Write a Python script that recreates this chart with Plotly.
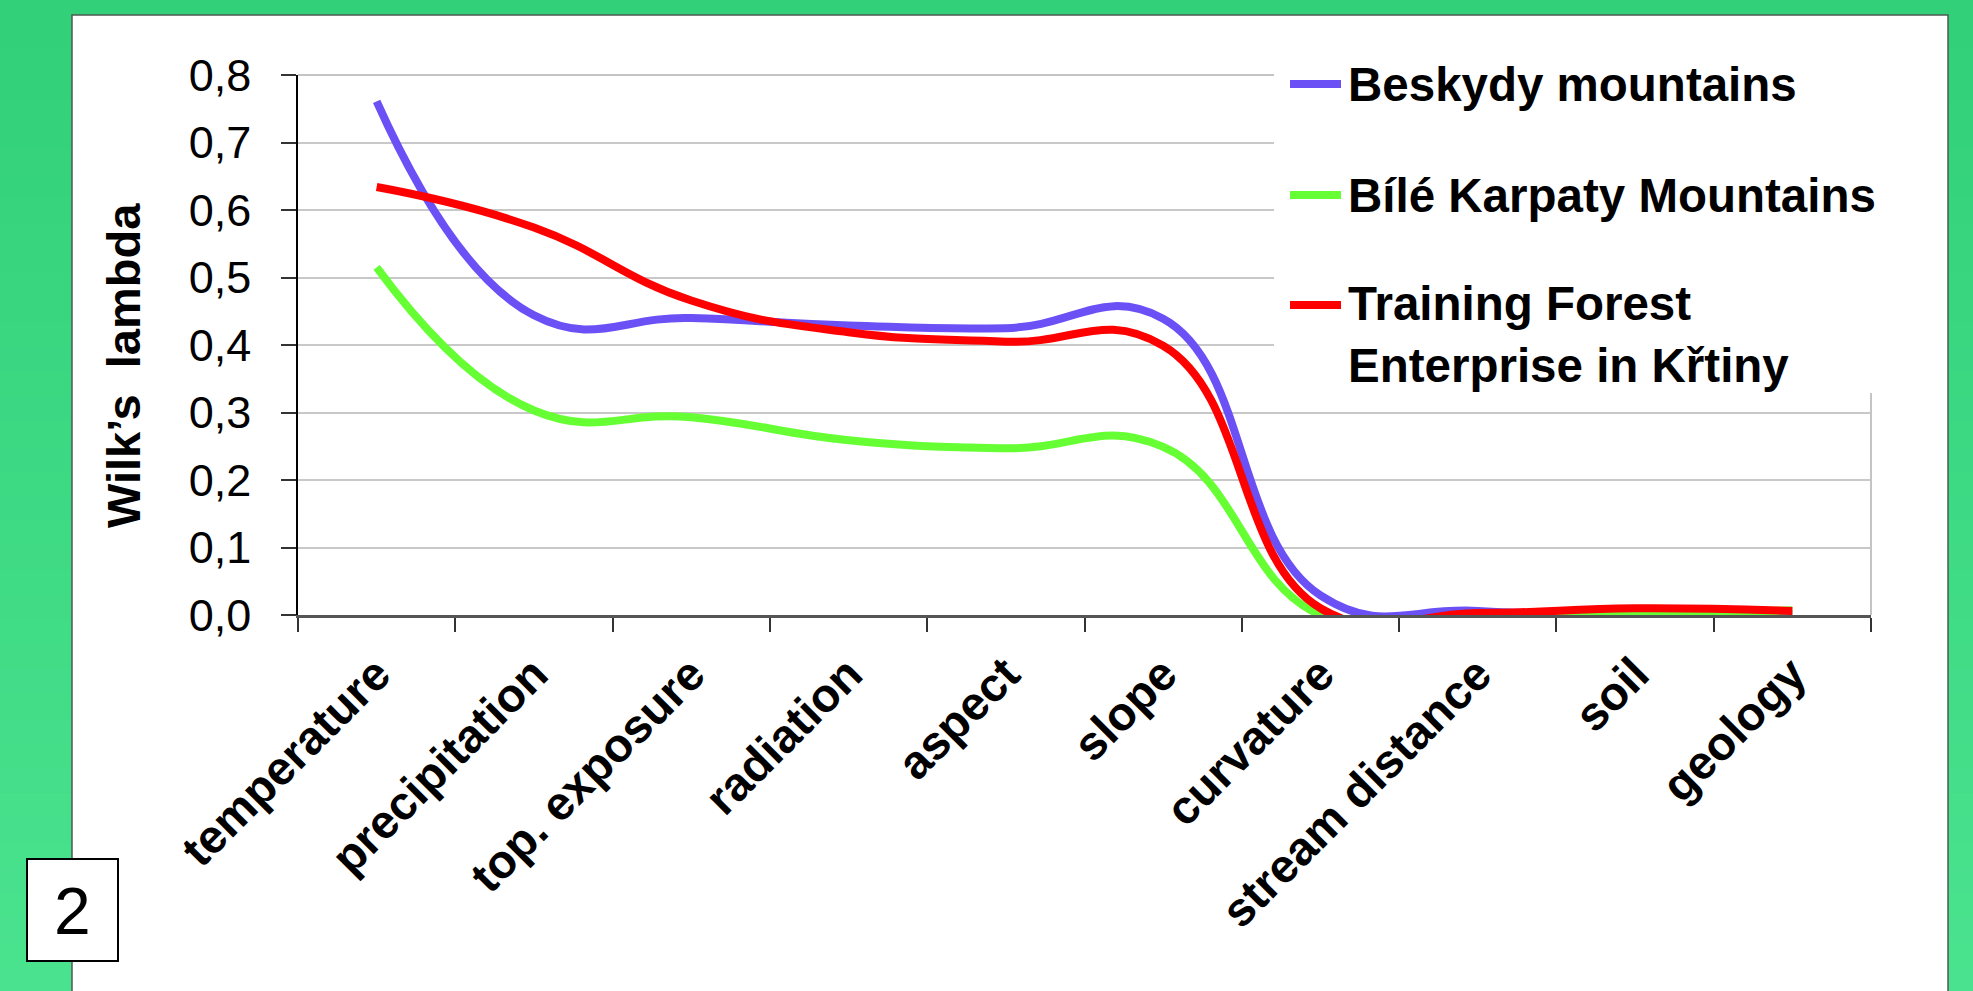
import plotly.graph_objects as go

# Discriminant variables (x categories)
categories = ["temperature", "precipitation", "top. exposure", "radiation", "aspect",
              "slope", "curvature", "stream distance", "soil", "geology"]

# Wilk's lambda per study area
beskydy = [0.761, 0.444, 0.440, 0.429, 0.425, 0.439, 0.029, 0.006, 0.001, 0.001]
bile_karpaty = [0.515, 0.303, 0.293, 0.259, 0.247, 0.249, 0.000, 0.000, 0.001, 0.007]
krtiny = [0.634, 0.574, 0.466, 0.419, 0.405, 0.399, 0.010, 0.003, 0.010, 0.006]

series_names = ["Beskydy mountains", "Bílé Karpaty Mountains",
                "Training Forest<br>Enterprise in Křtiny"]
series_colors = ["#6A50F5", "#66FF33", "#FF0000"]

y_tick_vals = [0.0, 0.1, 0.2, 0.3, 0.4, 0.5, 0.6, 0.7, 0.8]
y_tick_text = ["0,0", "0,1", "0,2", "0,3", "0,4", "0,5", "0,6", "0,7", "0,8"]

FONT = "Liberation Sans, Arial, sans-serif"
W, H = 1973, 991
L, R, T, B = 298, 1871, 75, 615  # plot area in pixels


def px(x):
    return (x - L) / (R - L)


def py(y):
    return (B - y) / (B - T)


fig = go.Figure()
for vals, name, col in zip([beskydy, bile_karpaty, krtiny], series_names, series_colors):
    fig.add_trace(go.Scatter(
        x=categories, y=vals, name=name, mode="lines",
        line=dict(color=col, width=8, shape="spline", smoothing=1.3),
        showlegend=False, hoverinfo="skip",
    ))

shapes = []
# green backdrop with a soft vertical gradient
n_strips = 40
top_rgb, bot_rgb = (50, 208, 121), (74, 226, 142)
for i in range(n_strips):
    f = i / (n_strips - 1)
    c = tuple(round(a + (b - a) * f) for a, b in zip(top_rgb, bot_rgb))
    y0 = H * i / n_strips
    y1 = H * (i + 1) / n_strips + 1
    shapes.append(dict(type="rect", xref="paper", yref="paper", layer="below",
                       x0=px(0), x1=px(W), y0=py(y0), y1=py(y1),
                       fillcolor="rgb(%d,%d,%d)" % c, line=dict(width=0)))
# white slide panel
shapes.append(dict(type="rect", xref="paper", yref="paper", layer="below",
                   x0=px(72), x1=px(1948), y0=py(15), y1=py(H + 20),
                   fillcolor="white", line=dict(color="#4d5a52", width=1.5)))
# plot-area frame (top and right)
shapes.append(dict(type="line", xref="paper", yref="paper", layer="below",
                   x0=1, x1=1, y0=0, y1=1, line=dict(color="#C4C4C4", width=2)))
shapes.append(dict(type="line", xref="paper", yref="paper", layer="below",
                   x0=0, x1=1, y0=1, y1=1, line=dict(color="#C4C4C4", width=2)))
# legend area (white box without border)
shapes.append(dict(type="rect", xref="paper", yref="paper", layer="above",
                   x0=px(1274), x1=px(1947), y0=py(16), y1=py(393),
                   fillcolor="white", line=dict(width=0)))
legend_y = [84, 195, 305]
for ly, col in zip(legend_y, series_colors):
    shapes.append(dict(type="line", xref="paper", yref="paper", layer="above",
                       x0=px(1290), x1=px(1341), y0=py(ly), y1=py(ly),
                       line=dict(color=col, width=8)))
# slide number box
shapes.append(dict(type="rect", xref="paper", yref="paper", layer="above",
                   x0=px(27), x1=px(118), y0=py(859), y1=py(961),
                   fillcolor="white", line=dict(color="black", width=2)))

annotations = [
    dict(text="<b>Wilk’s  lambda</b>", xref="paper", yref="paper",
         x=px(123), y=py(366), textangle=-90, showarrow=False,
         xanchor="center", yanchor="middle",
         font=dict(family=FONT, size=47, color="black")),
    dict(text="2", xref="paper", yref="paper", x=px(72.5), y=py(911),
         showarrow=False, xanchor="center", yanchor="middle",
         font=dict(family=FONT, size=66, color="black")),
]
legend_text_y = [84, 195, 334]
for ly, name in zip(legend_text_y, series_names):
    annotations.append(dict(
        text="<b>" + name + "</b>", xref="paper", yref="paper",
        x=px(1346), y=py(ly), showarrow=False, xanchor="left", yanchor="middle",
        align="left", font=dict(family=FONT, size=47.5, color="black")))

fig.update_layout(
    width=W, height=H,
    margin=dict(l=L, r=W - R, t=T, b=H - B, autoexpand=False),
    paper_bgcolor="rgb(50,208,121)",
    plot_bgcolor="rgba(0,0,0,0)",
    shapes=shapes,
    annotations=annotations,
    showlegend=False,
    xaxis=dict(
        type="category", range=[-0.5, 9.5], tickson="boundaries",
        ticks="outside", ticklen=14, tickwidth=1.5, tickcolor="#333333",
        showline=True, linecolor="#555555", linewidth=2.5,
        showgrid=False, zeroline=False, tickangle=-45,
        tickfont=dict(family=FONT, size=47, color="black", weight="bold"),
        ticklabelstandoff=10,
        automargin=False, fixedrange=True,
    ),
    yaxis=dict(
        range=[0, 0.8], tickvals=y_tick_vals, ticktext=y_tick_text,
        ticks="outside", ticklen=15, tickwidth=1.5, tickcolor="#333333",
        showline=True, linecolor="black", linewidth=1.5,
        showgrid=True, gridcolor="#C8C8C8", gridwidth=2, zeroline=False,
        tickfont=dict(family=FONT, size=45, color="black"),
        ticklabelstandoff=21, automargin=False, fixedrange=True,
    ),
)

fig.write_html("out.html")
